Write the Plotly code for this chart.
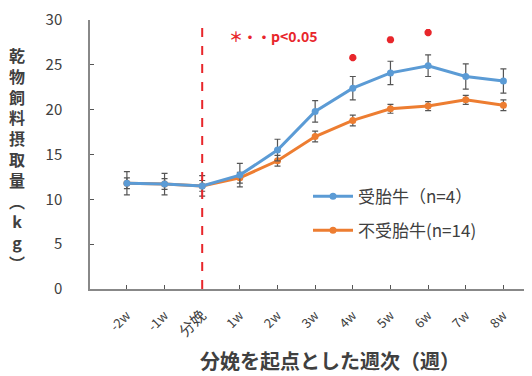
import plotly.graph_objects as go

weeks = ["-2w", "-1w", "分娩", "1w", "2w", "3w", "4w", "5w", "6w", "7w", "8w"]
pregnant = [11.8, 11.7, 11.5, 12.7, 15.5, 19.8, 22.4, 24.1, 24.9, 23.7, 23.2]
pregnant_err = [1.3, 1.2, 1.15, 1.3, 1.2, 1.2, 1.3, 1.3, 1.2, 1.4, 1.35]
nonpregnant = [11.8, 11.7, 11.5, 12.4, 14.3, 17.0, 18.8, 20.1, 20.4, 21.1, 20.5]
nonpregnant_err = [0.6, 0.6, 0.6, 0.6, 0.6, 0.6, 0.6, 0.5, 0.5, 0.5, 0.6]
sig_weeks = ["4w", "5w", "6w"]
sig_y = [25.8, 27.8, 28.6]
tick_text = ["-2w", "-1w", "<span style='font-size:15px'>分娩</span>", "1w", "2w", "3w", "4w", "5w", "6w", "7w", "8w"]

BLUE = "#5b9bd5"
ORANGE = "#ed7d31"
RED = "#e8262b"
GRAY = "#404040"
FONT = "Noto Sans CJK JP"

fig = go.Figure()
fig.add_trace(go.Scatter(
    x=weeks, y=nonpregnant, name="不受胎牛(n=14)", mode="lines+markers", legendrank=2, legendgroup="b",
    line=dict(color=ORANGE, width=3), marker=dict(size=7, color=ORANGE),
    error_y=dict(type="data", array=nonpregnant_err, color="#555555", thickness=1.2, width=3),
))
fig.add_trace(go.Scatter(
    x=weeks, y=pregnant, name="受胎牛（n=4）", mode="lines+markers", legendrank=1, legendgroup="a",
    line=dict(color=BLUE, width=3), marker=dict(size=7, color=BLUE),
    error_y=dict(type="data", array=pregnant_err, color="#555555", thickness=1.2, width=3),
))
fig.add_trace(go.Scatter(
    x=sig_weeks, y=sig_y, mode="markers", showlegend=False,
    marker=dict(symbol="asterisk", size=6, color=RED, line=dict(color=RED, width=2.5)),
))

fig.add_shape(type="line", xref="x", yref="y", x0="分娩", x1="分娩", y0=0, y1=30,
              line=dict(color=RED, width=2, dash="dash"))

fig.add_annotation(x=0.314, y=0.94, xref="paper", yref="paper", xanchor="left", yanchor="middle",
                   text="<b>＊・・p&lt;0.05</b>", showarrow=False,
                   font=dict(family=FONT, size=14, color=RED))

ytitle = "<br>".join(list("乾物飼料摂取量") + ["︵", "k", "g", "︶"])
fig.add_annotation(x=-0.168, y=0.485, xref="paper", yref="paper", xanchor="center", yanchor="middle",
                   text="<b>" + ytitle + "</b>",
                   showarrow=False, font=dict(family=FONT, size=16, color=GRAY))

fig.add_annotation(x=0.55, y=-0.265, xref="paper", yref="paper", xanchor="center", yanchor="middle",
                   text="<b>分娩を起点とした週次（週）</b>",
                   showarrow=False, font=dict(family=FONT, size=20, color=GRAY))

fig.update_layout(
    width=524, height=368,
    margin=dict(l=82, r=6, t=12, b=87),
    paper_bgcolor="white", plot_bgcolor="white",
    font=dict(family=FONT, color=GRAY),
    showlegend=True,
    legend=dict(x=0.50, y=0.41, xanchor="left", yanchor="top", traceorder="grouped",
                font=dict(family=FONT, size=17, color=GRAY), bgcolor="rgba(0,0,0,0)",
                itemwidth=40, tracegroupgap=9),
    xaxis=dict(
        type="category", categoryorder="array", categoryarray=weeks,
        tickmode="array", tickvals=weeks, ticktext=tick_text,
        range=[-0.98, 10.6], showline=True, linecolor="#888888", linewidth=1.5, automargin=False,
        ticks="inside", ticklen=4, tickcolor="#555555", showgrid=False, zeroline=False,
        tickangle=-45, tickfont=dict(family=FONT, size=13, color=GRAY), ticklabelstandoff=12,
    ),
    yaxis=dict(
        range=[0, 30], dtick=5, showline=True, linecolor="#888888", linewidth=1.5, automargin=False,
        ticks="inside", ticklen=4, tickcolor="#555555", showgrid=False, zeroline=False,
        tickfont=dict(family=FONT, size=15, color=GRAY), ticklabelstandoff=23,
    ),
)

fig.write_html("out.html")
